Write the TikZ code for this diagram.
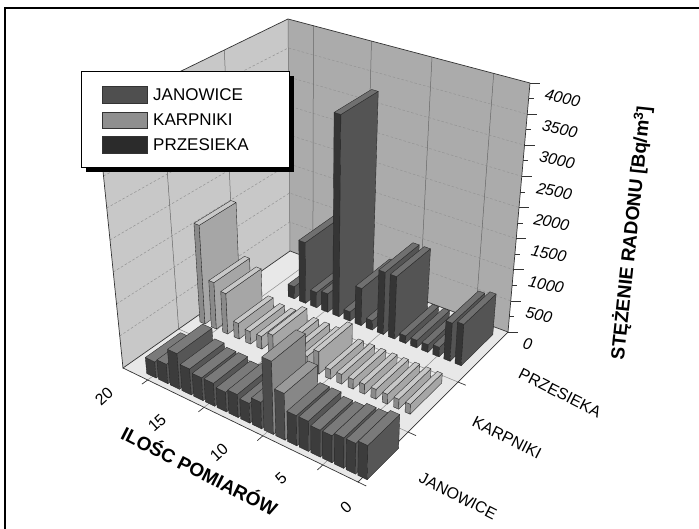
\documentclass[tikz,border=0pt]{standalone}
\usepackage{fontspec}
\setmainfont{Liberation Sans}
\definecolor{janfront}{HTML}{3C3C3C}
\definecolor{janside}{HTML}{565656}
\definecolor{jantop}{HTML}{7A7A7A}
\definecolor{janlfront}{HTML}{4A4A4A}
\definecolor{janlside}{HTML}{878787}
\definecolor{janltop}{HTML}{9A9A9A}
\definecolor{karfront}{HTML}{8A8A8A}
\definecolor{karside}{HTML}{A6A6A6}
\definecolor{kartop}{HTML}{C8C8C8}
\definecolor{przfront}{HTML}{353535}
\definecolor{przside}{HTML}{545454}
\definecolor{prztop}{HTML}{707070}
\definecolor{leftwall}{HTML}{C8C8C8}
\definecolor{backwall}{HTML}{ABABAB}
\definecolor{floorgray}{HTML}{E8E8E8}

% box cs: u along ILOSC axis, v across the three sites, w = value/4000
\pgfkeys{/box/.cd, u/.store in=\bxu, v/.store in=\bxv, w/.store in=\bxw}
\tikzdeclarecoordinatesystem{box}{%
  \pgfkeys{/box/.cd, u=0, v=0, w=0, #1}%
  \pgfmathsetmacro\bxa{(1-(\bxu))*(1-(\bxv))}%
  \pgfmathsetmacro\bxb{(\bxu)*(1-(\bxv))}%
  \pgfmathsetmacro\bxc{(1-(\bxu))*(\bxv)}%
  \pgfmathsetmacro\bxd{(\bxu)*(\bxv)}%
  \pgfmathsetmacro\bxe{\bxw}%
  \pgfmathsetmacro\bxX{(1-\bxe)*(\bxa*123+\bxb*358+\bxc*290+\bxd*508)+\bxe*(\bxa*97+\bxb*362+\bxc*288+\bxd*530)}%
  \pgfmathsetmacro\bxY{(1-\bxe)*(\bxa*368+\bxb*482+\bxc*251+\bxd*332)+\bxe*(\bxa*112+\bxb*208+\bxc*19+\bxd*83)}%
  \pgfpoint{\bxX pt}{-\bxY pt}%
}

\tikzset{
  barline/.style={draw=black!85, line width=0.35pt, line join=round},
  wallgrid/.style={draw=black!42, dash pattern=on 2.5pt off 2pt, line width=0.5pt},
  wallline/.style={draw=black!60, line width=0.5pt},
  floorline/.style={draw=black!45, line width=0.5pt},
  boxedge/.style={draw=black!80, line width=0.7pt},
  ticklabel/.style={font=\fontsize{16}{18}\selectfont\itshape, inner sep=1pt},
  catlabel/.style={font=\fontsize{16}{18}\selectfont, rotate=-27, inner sep=0pt},
  xlabel/.style={font=\fontsize{16}{18}\selectfont, rotate=42, inner sep=0pt},
  axistitle/.style={font=\fontsize{19}{21}\selectfont\bfseries, inner sep=0pt},
  legendtext/.style={font=\fontsize{17}{19}\selectfont, anchor=west, inner sep=0pt}
}

% one bar: #1 position, #2 front v of the row, #3 thickness, #4 value, #5 colour prefix
\newcommand\slab[5]{%
  \pgfmathsetmacro\slua{0.08+0.05*#1}%
  \pgfmathsetmacro\slub{\slua+#3}%
  \pgfmathsetmacro\slva{#2}%
  \pgfmathsetmacro\slvb{#2+0.21}%
  \pgfmathsetmacro\slh{#4/4000}%
  \filldraw[barline, fill=#5front] (box cs:u=\slua,v=\slva) -- (box cs:u=\slub,v=\slva)
    -- (box cs:u=\slub,v=\slva,w=\slh) -- (box cs:u=\slua,v=\slva,w=\slh) -- cycle;
  \filldraw[barline, fill=#5side] (box cs:u=\slub,v=\slva) -- (box cs:u=\slub,v=\slvb)
    -- (box cs:u=\slub,v=\slvb,w=\slh) -- (box cs:u=\slub,v=\slva,w=\slh) -- cycle;
  \filldraw[barline, fill=#5top] (box cs:u=\slua,v=\slva,w=\slh) -- (box cs:u=\slub,v=\slva,w=\slh)
    -- (box cs:u=\slub,v=\slvb,w=\slh) -- (box cs:u=\slua,v=\slvb,w=\slh) -- cycle;
}

\begin{document}
\begin{tikzpicture}[x=1pt, y=-1pt]
  \useasboundingbox (0,0) rectangle (699,529);
  \draw[line width=1.6pt] (5,529) -- (5,8) -- (699,8);

  % walls and floor
  \fill[leftwall] (box cs:u=0,v=0) -- (box cs:u=0,v=1) -- (box cs:u=0,v=1,w=1) -- (box cs:u=0,v=0,w=1) -- cycle;
  \fill[backwall] (box cs:u=0,v=1) -- (box cs:u=1,v=1) -- (box cs:u=1,v=1,w=1) -- (box cs:u=0,v=1,w=1) -- cycle;
  \fill[floorgray] (box cs:u=0,v=0) -- (box cs:u=1,v=0) -- (box cs:u=1,v=1) -- (box cs:u=0,v=1) -- cycle;
  \foreach \k in {1,...,7} {
    \draw[wallgrid] (box cs:u=0,v=0,w=\k/8) -- (box cs:u=0,v=1,w=\k/8) -- (box cs:u=1,v=1,w=\k/8);
  }
  \foreach \t in {0.105,0.345,0.595,0.85} {
    \draw[wallline] (box cs:u=\t,v=1) -- (box cs:u=\t,v=1,w=1);
    \draw[floorline] (box cs:u=\t,v=0) -- (box cs:u=\t,v=1);
    \draw[boxedge] (box cs:u=\t,v=0) -- (box cs:u=\t,v=-0.035);
  }
  \foreach \s in {1,2} {
    \draw[wallline] (box cs:u=0,v=\s/3) -- (box cs:u=0,v=\s/3,w=1);
    \draw[floorline] (box cs:u=0,v=\s/3) -- (box cs:u=1,v=\s/3);
  }
  \foreach \s in {0,1,2} \draw[boxedge] (box cs:u=1,v=\s/3) -- (box cs:u=1.035,v=\s/3);
  \draw[boxedge] (box cs:u=0,v=0) -- (box cs:u=0,v=0,w=1) -- (box cs:u=0,v=1,w=1) -- (box cs:u=1,v=1,w=1);
  \draw[wallline] (box cs:u=0,v=1) -- (box cs:u=0,v=1,w=1);
  \draw[boxedge] (box cs:u=0,v=1) -- (box cs:u=0,v=0) -- (box cs:u=1,v=0) -- (box cs:u=1,v=1) -- cycle;

  % z axis
  \draw[boxedge] (box cs:u=1,v=1) -- (box cs:u=1,v=1,w=1);
  \foreach \k in {0,...,8} {
    \draw[boxedge] (box cs:u=1,v=1,w=\k/8) -- ++(10,0);
    \pgfmathtruncatemacro\zval{500*\k}
    \node[ticklabel, anchor=west, rotate=-12] (z\k) at ([xshift=14pt, yshift=-11pt]box cs:u=1,v=1,w=\k/8) {\zval};
  }
  \foreach \k in {0,...,7} \draw[boxedge] (box cs:u=1,v=1,w=\k/8+1/16) -- ++(5,0);

  % bars, back row first
  \foreach \val [count=\p from 0] in {0,0,200,1000,250,300,3300,150,600,150,1000,1000,120,120,120,150,600,650,0}
    {\ifnum\val>0 \slab{\p}{0.75}{0.028}{\val}{prz}\fi}
  \foreach \val [count=\p from -1] in {1600,750,650,250,200,200,300,200,200,200,350,150,150,150,150,150,150,150,150,0}
    {\ifnum\val>0 \slab{\p}{0.42}{0.022}{\val}{kar}\fi}
  \foreach \val/\pre [count=\p from 0] in {250/jan,300/jan,550/jan,400/jan,350/jan,350/jan,300/jan,350/jan,300/jan,
      400/jan,1100/janl,700/janl,450/jan,450/jan,400/jan,400/jan,450/jan,450/jan,500/jan}
    {\slab{\p}{0.03}{0.04}{\val}{\pre}}

  % axis labels
  \node[xlabel] (x20) at (104,396) {20};
  \node[xlabel] (x15) at (157,423) {15};
  \node[xlabel] (x10) at (219,452) {10};
  \node[xlabel] (x5) at (281,478) {5};
  \node[xlabel] (x0) at (346,507) {0};
  \node[axistitle, rotate=-27] (xtitle) at (200,470) {ILOŚC POMIARÓW};
  \node[catlabel] (prz) at (560,393) {PRZESIEKA};
  \node[catlabel] (kar) at (507,438) {KARPNIKI};
  \node[catlabel] (jan) at (458,496) {JANOWICE};
  \node[axistitle, rotate=84] (ztitle) at (631,233) {STĘŻENIE RADONU [Bq/m\textsuperscript{3}]};

  % legend
  \fill[black] (86,76) rectangle (294,172);
  \draw[fill=white, line width=0.7pt] (81,71) rectangle (289,167);
  \filldraw[draw=black!80, fill=black!69] (102,86) rectangle (147,103);
  \filldraw[draw=black!80, fill=black!44] (102,112) rectangle (147,128);
  \filldraw[draw=black!80, fill=black!83] (102,136) rectangle (147,153);
  \node[legendtext] (ljan) at (153,95) {JANOWICE};
  \node[legendtext] (lkar) at (153,120) {KARPNIKI};
  \node[legendtext] (lprz) at (153,145) {PRZESIEKA};
\end{tikzpicture}
\end{document}
